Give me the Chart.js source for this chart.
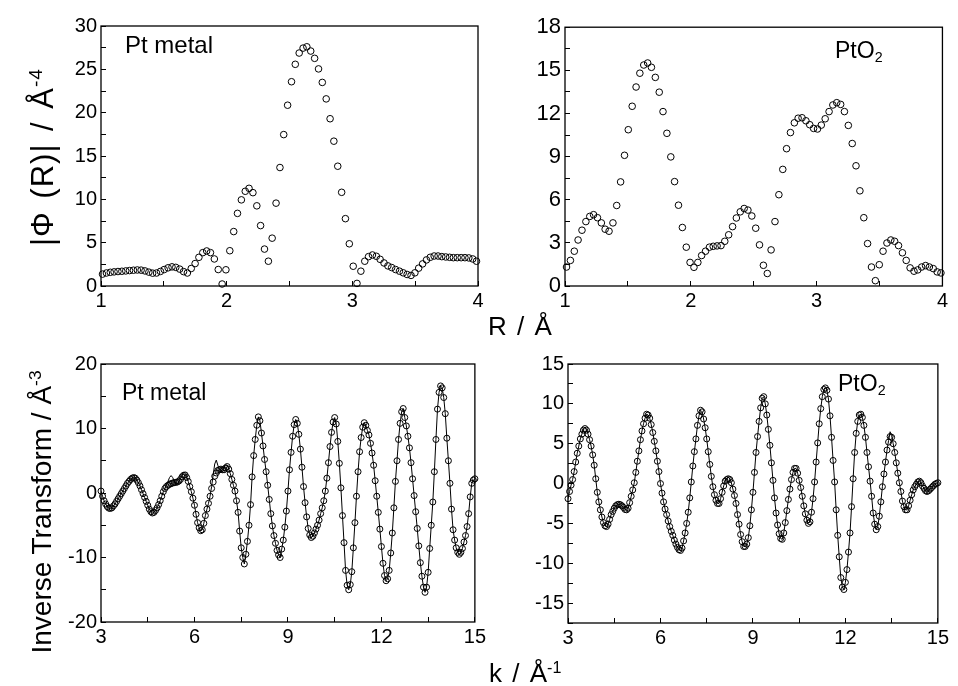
<!DOCTYPE html>
<html>
<head>
<meta charset="utf-8">
<title>Pt metal / PtO2 EXAFS</title>
<script src="https://cdn.jsdelivr.net/npm/chart.js@4.4.1/dist/chart.umd.min.js"></script>
<style>
  body { margin: 0; background: #fff; }
  #wrap { position: relative; width: 958px; height: 686px; overflow: hidden;
          font-family: "Liberation Sans", Arial, sans-serif; color: #000; }
  canvas { position: absolute; }
  .lbl { position: absolute; white-space: nowrap; line-height: 1; }
  .ytitle { position: absolute; white-space: nowrap; line-height: 1;
            transform: translate(-50%, -50%) rotate(-90deg); }
  sup { font-size: 0.62em; position: relative; top: -0.55em; vertical-align: baseline; line-height: 0; }
  sub { font-size: 0.62em; position: relative; top: 0.3em; vertical-align: baseline; line-height: 0; }
</style>
</head>
<body>
<div id="wrap">
  <canvas id="phiPt"></canvas>
  <canvas id="phiPtO2"></canvas>
  <canvas id="invPt"></canvas>
  <canvas id="invPtO2"></canvas>

  <div class="ytitle" style="left:42px; top:157px; font-size:31px; letter-spacing:1px; word-spacing:3px;">|Φ (R)| / Å<sup>-4</sup></div>
  <div class="ytitle" style="left:42px; top:512px; font-size:28px;">Inverse Transform / Å<sup>-3</sup></div>
  <div class="lbl" style="left:488px; top:313px; font-size:26px; word-spacing:3px;">R / Å</div>
  <div class="lbl" style="left:489px; top:660px; font-size:26px; word-spacing:3px;">k / Å<sup>-1</sup></div>

  <div class="lbl" style="left:125px; top:33px; font-size:24px;">Pt metal</div>
  <div class="lbl" style="left:835px; top:39px; font-size:23px;">PtO<sub>2</sub></div>
  <div class="lbl" style="left:122px; top:381px; font-size:23px;">Pt metal</div>
  <div class="lbl" style="left:838px; top:372px; font-size:23px;">PtO<sub>2</sub></div>
</div>

<script>
Chart.defaults.font.family = '"Liberation Sans", Arial, sans-serif';
Chart.defaults.color = '#000';

// R grid of the Fourier transforms (Å)
const rGrid = [
  1.012,1.043,1.074,1.104,1.135,1.166,1.197,1.227,1.258,1.289,
  1.319,1.350,1.381,1.411,1.442,1.473,1.503,1.534,1.565,1.595,
  1.626,1.657,1.687,1.718,1.749,1.779,1.810,1.841,1.871,1.902,
  1.933,1.964,1.994,2.025,2.056,2.086,2.117,2.148,2.178,2.209,
  2.240,2.270,2.301,2.332,2.362,2.393,2.424,2.454,2.485,2.516,
  2.546,2.577,2.608,2.638,2.669,2.700,2.731,2.761,2.792,2.823,
  2.853,2.884,2.915,2.945,2.976,3.007,3.037,3.068,3.099,3.129,
  3.160,3.191,3.221,3.252,3.283,3.313,3.344,3.375,3.405,3.436,
  3.467,3.498,3.528,3.559,3.590,3.620,3.651,3.682,3.712,3.743,
  3.774,3.804,3.835,3.866,3.896,3.927,3.958,3.988
];

// |Φ(R)| for Pt metal
const ptPhi = [
  1.37,1.50,1.58,1.63,1.67,1.70,1.74,1.78,1.82,1.85,
  1.83,1.74,1.60,1.48,1.50,1.68,1.90,2.10,2.21,2.15,
  1.95,1.66,1.50,2.02,2.59,3.31,3.85,4.04,3.85,3.12,
  1.90,0.23,1.87,4.07,6.28,8.38,9.94,10.93,11.27,10.77,
  9.25,6.97,4.26,2.86,5.52,9.56,13.67,17.47,20.86,23.57,
  25.58,26.88,27.45,27.60,27.11,26.27,25.05,23.49,21.59,19.30,
  16.71,13.82,10.81,7.77,4.87,2.28,0.30,1.71,2.86,3.39,
  3.58,3.43,3.08,2.66,2.32,2.13,1.90,1.71,1.52,1.33,
  1.22,1.52,2.06,2.55,3.01,3.31,3.46,3.46,3.39,3.35,
  3.31,3.27,3.27,3.27,3.27,3.24,3.12,2.86
];

// |Φ(R)| for PtO2
const pto2Phi = [
  1.32,1.78,2.42,3.20,3.88,4.48,4.84,4.96,4.75,4.39,
  3.95,3.81,4.39,5.60,7.24,9.09,10.87,12.50,13.84,14.80,
  15.37,15.51,15.21,14.51,13.48,12.13,10.62,8.98,7.26,5.62,
  4.07,2.70,1.64,1.30,1.64,2.12,2.42,2.70,2.76,2.79,
  2.81,3.11,3.56,4.13,4.73,5.16,5.39,5.28,4.87,4.02,
  2.86,1.44,0.87,2.51,4.48,6.35,8.11,9.55,10.67,11.35,
  11.67,11.70,11.49,11.22,10.96,10.92,11.19,11.63,12.13,12.59,
  12.75,12.63,12.13,11.17,9.91,8.36,6.62,4.75,2.95,1.32,
  0.37,1.48,2.42,2.99,3.20,3.11,2.81,2.31,1.78,1.26,
  1.03,1.12,1.32,1.42,1.32,1.21,0.98,0.91
];

// k grid of the back transforms (Å^-1)
const kGrid = [
  3,3.05,3.1,3.15,3.2,3.25,3.3,3.35,3.4,3.45,3.5,3.55,3.6,3.65,3.7,3.75,3.8,3.85,3.9,3.95,
  4,4.05,4.1,4.15,4.2,4.25,4.3,4.35,4.4,4.45,4.5,4.55,4.6,4.65,4.7,4.75,4.8,4.85,4.9,4.95,
  5,5.05,5.1,5.15,5.2,5.25,5.3,5.35,5.4,5.45,5.5,5.55,5.6,5.65,5.7,5.75,5.8,5.85,5.9,5.95,
  6,6.05,6.1,6.15,6.2,6.25,6.3,6.35,6.4,6.45,6.5,6.55,6.6,6.65,6.7,6.75,6.8,6.85,6.9,6.95,
  7,7.05,7.1,7.15,7.2,7.25,7.3,7.35,7.4,7.45,7.5,7.55,7.6,7.65,7.7,7.75,7.8,7.85,7.9,7.95,
  8,8.05,8.1,8.15,8.2,8.25,8.3,8.35,8.4,8.45,8.5,8.55,8.6,8.65,8.7,8.75,8.8,8.85,8.9,8.95,
  9,9.05,9.1,9.15,9.2,9.25,9.3,9.35,9.4,9.45,9.5,9.55,9.6,9.65,9.7,9.75,9.8,9.85,9.9,9.95,
  10,10.05,10.1,10.15,10.2,10.25,10.3,10.35,10.4,10.45,10.5,10.55,10.6,10.65,10.7,10.75,10.8,10.85,10.9,10.95,
  11,11.05,11.1,11.15,11.2,11.25,11.3,11.35,11.4,11.45,11.5,11.55,11.6,11.65,11.7,11.75,11.8,11.85,11.9,11.95,
  12,12.05,12.1,12.15,12.2,12.25,12.3,12.35,12.4,12.45,12.5,12.55,12.6,12.65,12.7,12.75,12.8,12.85,12.9,12.95,
  13,13.05,13.1,13.15,13.2,13.25,13.3,13.35,13.4,13.45,13.5,13.55,13.6,13.65,13.7,13.75,13.8,13.85,13.9,13.95,
  14,14.05,14.1,14.15,14.2,14.25,14.3,14.35,14.4,14.45,14.5,14.55,14.6,14.65,14.7,14.75,14.8,14.85,14.9,14.95,
  15
];

// Pt metal: filtered data (circles) and fit (line)
const ptData = [
  0.3,-0.5,-1.2,-1.7,-2.1,-2.35,-2.4,-2.3,-2.0,-1.7,-1.3,-0.9,-0.5,-0.1,0.3,0.7,1.1,1.5,1.8,2.1,
  2.3,2.4,2.3,2.0,1.6,1.1,0.5,-0.1,-0.7,-1.3,-1.9,-2.5,-2.9,-3.1,-3.0,-2.7,-2.3,-1.8,-1.2,-0.5,
  0.2,0.7,1.0,1.2,1.35,1.45,1.55,1.6,1.65,1.7,1.85,2.1,2.5,2.75,2.8,2.4,1.8,1.0,0.2,-0.8,
  -1.9,-3.3,-4.6,-5.4,-5.85,-5.7,-4.7,-3.5,-2.5,-1.6,-0.5,0.7,1.7,2.6,3.1,3.5,3.6,3.7,3.6,3.6,
  3.9,4.1,3.7,3.0,2.1,1.2,0.3,-1.2,-3.0,-5.9,-8.5,-10.0,-11.0,-9.5,-7.5,-5.0,-1.8,2.5,5.8,8.3,
  10.5,11.8,11.2,9.3,7.3,5.2,3.3,1.2,-1.0,-3.2,-5.1,-6.6,-7.8,-8.9,-9.6,-10.0,-8.7,-7.3,-5.3,-2.8,
  0.3,3.6,6.3,8.8,10.6,11.4,10.8,9.1,6.8,4.0,1.0,-1.5,-3.7,-5.5,-6.5,-6.9,-6.7,-6.2,-5.6,-5.0,
  -4.2,-3.2,-2.3,-1.2,0.3,2.3,4.7,7.2,9.4,11.0,11.7,10.7,8.0,4.6,0.8,-3.5,-7.7,-12.0,-14.3,-15.0,
  -14.2,-12.2,-8.5,-4.6,-0.5,3.3,6.4,8.6,10.2,10.9,10.5,9.7,9.0,7.7,6.2,4.3,1.9,-0.5,-3.0,-5.6,
  -8.3,-10.9,-12.8,-13.6,-13.3,-12.0,-9.3,-6.2,-2.3,1.8,5.0,8.3,10.8,12.6,13.1,11.7,10.4,8.8,7.0,4.7,
  2.2,-0.4,-2.9,-5.5,-8.2,-10.8,-12.9,-14.6,-15.4,-14.6,-12.3,-8.6,-5.0,-1.4,3.3,8.3,13.0,15.6,16.6,16.3,
  14.8,12.3,8.5,5.0,1.5,-2.5,-5.7,-7.3,-8.5,-9.2,-9.5,-9.2,-8.6,-7.6,-6.6,-5.2,-3.2,-0.6,1.5,2.0,
  2.2
];
const ptFit = [
  0.3,-0.5,-1.2,-1.7,-2.1,-2.35,-2.4,-2.3,-2.0,-1.7,-1.3,-0.9,-0.5,-0.1,0.3,0.7,1.1,1.5,1.8,2.1,
  2.3,2.4,2.3,2.0,1.6,1.1,0.5,-0.1,-0.7,-1.3,-1.9,-2.5,-2.9,-3.1,-3.0,-2.7,-2.3,-1.8,-1.2,-0.5,
  0.2,0.7,1.2,1.8,2.4,2.7,2.4,1.9,1.5,1.4,1.7,2.3,2.8,3.0,2.9,2.4,1.8,1.0,0.2,-0.8,
  -1.9,-3.3,-4.6,-5.4,-5.85,-5.7,-4.7,-3.5,-2.5,-1.6,-0.5,1.0,2.8,4.5,5.1,4.3,3.6,3.4,3.6,4.0,
  4.3,4.3,3.7,3.0,2.1,1.2,0.3,-1.2,-3.0,-5.9,-8.5,-10.0,-11.0,-9.5,-7.5,-5.0,-1.8,2.5,5.8,8.3,
  10.5,11.8,11.2,9.3,7.3,5.2,3.3,1.2,-1.0,-3.2,-5.1,-6.6,-7.8,-8.9,-9.6,-10.0,-8.7,-7.3,-5.3,-2.8,
  0.3,3.6,6.3,8.8,10.6,11.4,10.8,9.1,6.8,4.0,1.0,-1.5,-3.7,-5.5,-6.5,-6.9,-6.7,-6.2,-5.6,-5.0,
  -4.2,-3.2,-2.3,-1.2,0.3,2.3,4.7,7.2,9.4,11.0,11.7,10.7,8.0,4.6,0.8,-3.5,-7.7,-12.0,-14.3,-15.0,
  -14.2,-12.2,-8.5,-4.6,-0.5,3.3,6.4,8.6,10.2,10.9,10.5,9.7,9.0,7.7,6.2,4.3,1.9,-0.5,-3.0,-5.6,
  -8.3,-10.9,-12.8,-13.6,-13.3,-12.0,-9.3,-6.2,-2.3,1.8,5.0,8.3,10.8,12.6,13.1,11.7,10.4,8.8,7.0,4.7,
  2.2,-0.4,-2.9,-5.5,-8.2,-10.8,-12.9,-14.6,-15.4,-14.6,-12.3,-8.6,-5.0,-1.4,3.3,8.3,13.0,15.6,16.6,16.3,
  14.8,12.3,8.5,5.0,1.5,-2.5,-5.7,-7.3,-8.5,-9.2,-9.5,-9.2,-8.6,-7.6,-6.6,-5.2,-3.2,-0.6,1.5,2.0,
  2.2
];

// PtO2: filtered data (circles) and fit (line)
const pto2Data = [
  -1.9,-1.0,-0.2,0.5,1.5,2.7,3.8,4.7,5.6,6.2,6.7,6.9,6.7,6.2,5.5,4.7,3.6,2.3,0.6,-1.1,
  -2.3,-3.3,-4.2,-4.9,-5.3,-5.4,-5.1,-4.5,-3.9,-3.5,-3.1,-2.8,-2.65,-2.6,-2.65,-2.8,-3.0,-3.25,-3.3,-3.1,
  -2.4,-1.6,-0.8,0.1,1.4,2.8,4.1,5.5,6.6,7.5,8.2,8.7,8.6,8.2,7.4,6.4,5.3,4.1,2.8,1.5,
  0.0,-1.2,-2.3,-3.2,-3.9,-4.7,-5.4,-6.0,-6.5,-7.1,-7.6,-8.0,-8.3,-8.4,-8.1,-7.2,-6.2,-5.0,-3.6,-1.8,
  0.2,2.2,4.0,5.6,7.3,8.5,9.2,9.0,8.1,7.0,5.6,4.0,2.4,0.9,-0.4,-1.4,-2.1,-2.5,-2.5,-1.9,
  -1.1,-0.3,0.3,0.5,0.6,0.5,0.1,-0.7,-1.5,-2.5,-3.9,-5.1,-6.4,-7.3,-7.9,-7.9,-7.6,-6.8,-5.3,-3.3,
  -1.1,1.4,3.9,5.9,7.8,9.5,10.7,10.9,10.0,8.6,6.8,4.8,2.6,0.4,-1.8,-3.7,-5.2,-6.3,-6.9,-7.0,
  -6.2,-4.9,-3.4,-2.0,-0.7,0.5,1.4,1.9,1.9,1.3,0.4,-0.5,-1.6,-2.8,-3.8,-4.6,-5.0,-4.8,-3.6,-1.9,
  0.2,2.7,5.1,7.5,9.4,10.9,11.8,12.0,11.7,10.6,8.5,5.8,2.9,0.2,-3.3,-6.5,-9.2,-11.8,-13.0,-13.3,
  -12.4,-10.8,-8.6,-6.2,-2.9,0.6,3.9,6.3,7.8,8.6,8.7,8.3,7.3,5.8,3.9,2.1,0.3,-1.6,-3.7,-5.1,
  -5.8,-5.4,-4.1,-2.3,-0.4,1.2,2.7,4.2,5.2,5.9,5.8,5.0,3.9,2.6,1.3,0.1,-1.0,-2.2,-2.9,-3.3,
  -3.3,-2.8,-2.1,-1.4,-0.8,-0.4,-0.1,0.2,0.3,0.1,-0.3,-0.6,-0.9,-1.0,-0.9,-0.7,-0.5,-0.3,-0.1,0.0,
  0.1
];
const pto2Fit = [
  -1.9,-1.0,-0.2,0.5,1.5,2.7,3.8,4.7,5.6,6.2,6.9,7.1,6.8,6.2,5.5,4.7,3.6,2.3,0.6,-1.1,
  -2.3,-3.3,-4.2,-4.9,-5.3,-5.4,-5.1,-4.5,-3.9,-3.5,-3.1,-2.8,-2.65,-2.6,-2.65,-2.8,-3.0,-3.25,-3.3,-3.1,
  -2.4,-1.6,-0.8,0.1,1.4,2.8,4.1,5.5,6.6,7.5,8.2,8.7,8.6,8.2,7.4,6.4,5.3,4.1,2.8,1.5,
  0.0,-1.2,-2.3,-3.2,-3.9,-4.7,-5.4,-6.0,-6.5,-7.1,-7.6,-8.0,-8.3,-8.4,-8.1,-7.2,-6.2,-5.0,-3.6,-1.8,
  0.2,2.2,4.0,5.6,7.3,8.5,9.2,9.0,8.1,7.0,5.6,4.0,2.4,0.9,-0.4,-1.4,-2.1,-2.5,-2.5,-1.9,
  -1.1,-0.3,0.3,0.6,0.8,0.6,0.1,-0.7,-1.5,-2.5,-3.9,-5.1,-6.4,-7.3,-7.9,-7.9,-7.6,-6.8,-5.3,-3.3,
  -1.1,1.4,3.9,5.9,7.8,9.5,10.7,10.9,10.0,8.6,6.8,4.8,2.6,0.4,-1.8,-3.7,-5.2,-6.3,-6.9,-7.0,
  -6.2,-4.9,-3.4,-2.0,-0.7,0.5,1.4,1.9,1.9,1.3,0.4,-0.5,-1.6,-2.8,-3.8,-4.6,-5.0,-4.8,-3.6,-1.9,
  0.2,2.7,5.1,7.5,9.4,10.9,11.8,12.0,11.7,10.6,8.5,5.8,2.9,0.2,-3.3,-6.5,-9.2,-11.8,-13.0,-13.3,
  -12.4,-10.8,-8.6,-6.2,-2.9,0.6,3.9,6.3,7.8,8.6,8.7,8.3,7.3,5.8,3.9,2.1,0.3,-1.6,-3.7,-5.1,
  -5.8,-5.4,-4.1,-2.3,-0.4,1.2,2.7,4.2,5.4,6.5,6.0,5.0,3.9,2.6,1.3,0.1,-1.0,-2.2,-2.9,-3.3,
  -3.3,-2.8,-2.1,-1.4,-0.8,-0.4,-0.1,0.2,0.3,0.1,-0.3,-0.6,-0.9,-1.0,-0.9,-0.7,-0.5,-0.3,-0.1,0.0,
  0.1
];

// labelled ticks (minor ticks sit halfway between them)
const rTickLabels = [1, 2, 3, 4];
const kTickLabels = [3, 6, 9, 12, 15];
const ptPhiTicks = [0, 5, 10, 15, 20, 25, 30];
const pto2PhiTicks = [0, 3, 6, 9, 12, 15, 18];
const ptInvTicks = [-20, -10, 0, 10, 20];
const pto2InvTicks = [-15, -10, -5, 0, 5, 10, 15];

function pairs(xs, ys) {
  return xs.map((x, i) => ({ x: x, y: ys[i] }));
}

// closed box round the plot area
const frameBox = {
  id: 'frameBox',
  afterDatasetsDraw(chart) {
    const a = chart.chartArea;
    const ctx = chart.ctx;
    ctx.save();
    ctx.strokeStyle = '#000';
    ctx.lineWidth = 1.3;
    ctx.strokeRect(a.left, a.top, a.right - a.left, a.bottom - a.top);
    ctx.restore();
  }
};

function axis(min, max, minor, labels, dir, size, fontSize) {
  return {
    type: 'linear',
    min: min,
    max: max,
    border: { display: false },
    grid: { drawOnChartArea: false, drawTicks: true, tickLength: -5, color: '#000', lineWidth: 1 },
    ticks: {
      stepSize: minor,
      autoSkip: false,
      maxRotation: 0,
      padding: dir === 'x' ? 8 : 9,
      color: '#000',
      font: { size: fontSize },
      callback: v => labels.some(l => Math.abs(l - v) < 1e-6) ? String(v) : ''
    },
    afterFit: s => {
      if (dir === 'x') s.height = size; else s.width = size;
    }
  };
}

function circles(xs, ys, r) {
  return {
    data: pairs(xs, ys),
    showLine: false,
    pointStyle: 'circle',
    pointRadius: r,
    pointBorderWidth: 1,
    pointBorderColor: '#000',
    pointBackgroundColor: 'rgba(0,0,0,0)',
    clip: false
  };
}

function fitLine(xs, ys) {
  return {
    data: pairs(xs, ys),
    showLine: true,
    borderColor: '#000',
    borderWidth: 1,
    pointRadius: 0,
    tension: 0
  };
}

function panel(id, pos, xAx, yAx, datasets) {
  const cv = document.getElementById(id);
  cv.width = pos.w;
  cv.height = pos.h;
  cv.style.left = pos.x + 'px';
  cv.style.top = pos.y + 'px';
  new Chart(cv, {
    type: 'scatter',
    data: { datasets: datasets },
    options: {
      responsive: false,
      animation: false,
      layout: { padding: { top: pos.pt, right: pos.pr, left: 0, bottom: 0 } },
      plugins: { legend: { display: false }, tooltip: { enabled: false } },
      scales: { x: xAx, y: yAx }
    },
    plugins: [frameBox]
  });
}

// |Φ(R)| panels
panel('phiPt', { x: 31, y: 5, w: 461, h: 321, pt: 18, pr: 14 },
  axis(1, 4, 0.5, rTickLabels, 'x', 40, 20),
  axis(0, 30, 2.5, ptPhiTicks, 'y', 70, 20),
  [circles(rGrid, ptPhi, 3.3)]);

panel('phiPtO2', { x: 495, y: 5, w: 461, h: 321, pt: 18, pr: 12 },
  axis(1, 4, 0.5, rTickLabels, 'x', 40, 20),
  axis(0, 18, 1.5, pto2PhiTicks, 'y', 70, 22),
  [circles(rGrid, pto2Phi, 3.3)]);

// back-transformed k-space panels
panel('invPt', { x: 31, y: 343, w: 463, h: 319, pt: 18, pr: 14 },
  axis(3, 15, 1.5, kTickLabels, 'x', 40, 20),
  axis(-20, 20, 5, ptInvTicks, 'y', 70, 20),
  [fitLine(kGrid, ptFit), circles(kGrid, ptData, 3)]);

panel('invPtO2', { x: 498, y: 343, w: 459, h: 320, pt: 18, pr: 11 },
  axis(3, 15, 1.5, kTickLabels, 'x', 40, 20),
  axis(-17.5, 15, 2.5, pto2InvTicks, 'y', 70, 20),
  [fitLine(kGrid, pto2Fit), circles(kGrid, pto2Data, 3)]);
</script>
</body>
</html>
